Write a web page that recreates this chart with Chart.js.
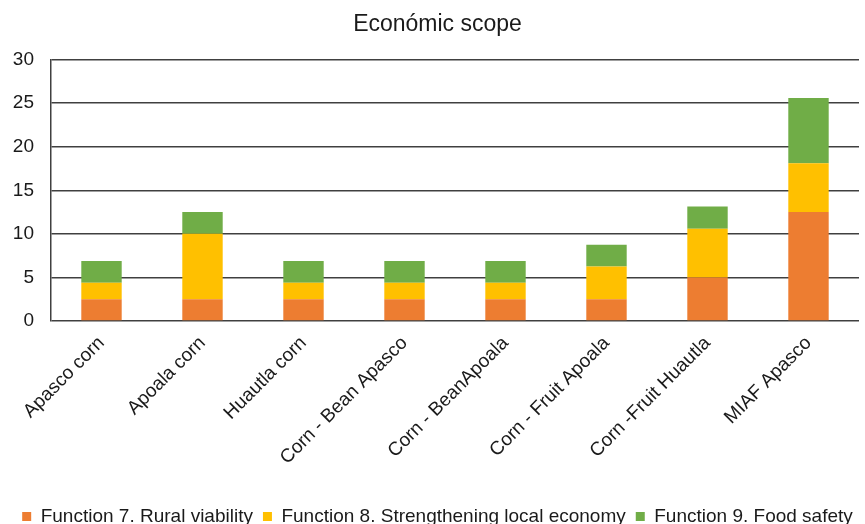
<!DOCTYPE html>
<html>
<head>
<meta charset="utf-8">
<script src="https://cdn.jsdelivr.net/npm/chart.js@4"></script>
<style>
  body { margin: 0; background: #fff; }
  #wrap { width: 865px; height: 524px; }
</style>
</head>
<body>
<div id="wrap"><canvas id="myChart"></canvas></div>
<script>
const categories = ['Apasco corn', 'Apoala corn', 'Huautla corn', 'Corn - Bean Apasco',
    'Corn - BeanApoala', 'Corn - Fruit Apoala', 'Corn -Fruit Huautla', 'MIAF Apasco'];
const ruralViability = [2.5, 2.5, 2.5, 2.5, 2.5, 2.5, 5, 12.5];
const localEconomy = [1.9, 7.5, 1.9, 1.9, 1.9, 3.75, 5.6, 5.6];
const foodSafety = [2.5, 2.5, 2.5, 2.5, 2.5, 2.5, 2.55, 7.5];
const yTicks = [0, 5, 10, 15, 20, 25, 30];

const ctx = document.getElementById('myChart').getContext('2d');

const data = {
    labels: categories,
    datasets: [{
        label: 'Function 7. Rural viability',
        data: ruralViability,
        backgroundColor: '#ED7D31'
    }, {
        label: 'Function 8. Strengthening local economy',
        data: localEconomy,
        backgroundColor: '#FFC000'
    }, {
        label: 'Function 9. Food safety',
        data: foodSafety,
        backgroundColor: '#70AD47'
    }]
};

const config = {
    type: 'bar',
    data: data,
    options: {
        responsive: true,
        maintainAspectRatio: false,
        animation: false,
        layout: { padding: { left: 10, right: 0, top: 0, bottom: -12 } },
        datasets: { bar: { categoryPercentage: 0.8, barPercentage: 0.5 } },
        plugins: {
            title: {
                display: true,
                text: 'Económic scope',
                color: '#1a1a1a',
                font: { family: 'Liberation Sans', size: 23, weight: 'normal' },
                padding: { top: 11, bottom: 21 }
            },
            legend: {
                position: 'bottom',
                labels: {
                    color: '#1a1a1a',
                    boxWidth: 9,
                    boxHeight: 9,
                    padding: 10,
                    font: { family: 'Liberation Sans', size: 19 }
                }
            },
            tooltip: { enabled: false }
        },
        scales: {
            x: {
                stacked: true,
                grid: { display: false },
                border: { display: false },
                afterFit: scale => {
                    scale.height = 176;
                    scale.paddingLeft = 0;
                    scale.paddingRight = 6;
                },
                ticks: {
                    color: '#1a1a1a',
                    maxRotation: 45,
                    minRotation: 45,
                    font: { family: 'Liberation Sans', size: 19 }
                }
            },
            y: {
                stacked: true,
                min: 0,
                max: 30,
                afterBuildTicks: axis => { axis.ticks = yTicks.map(v => ({ value: v })); },
                afterFit: scale => { scale.width = 41; },
                grid: { color: '#404040', lineWidth: 1.5, drawTicks: false },
                border: { display: true, color: '#404040', width: 1.5 },
                ticks: {
                    color: '#1a1a1a',
                    padding: 17,
                    font: { family: 'Liberation Sans', size: 19 }
                }
            }
        }
    }
};

const myChart = new Chart(ctx, config);
</script>
</body>
</html>
